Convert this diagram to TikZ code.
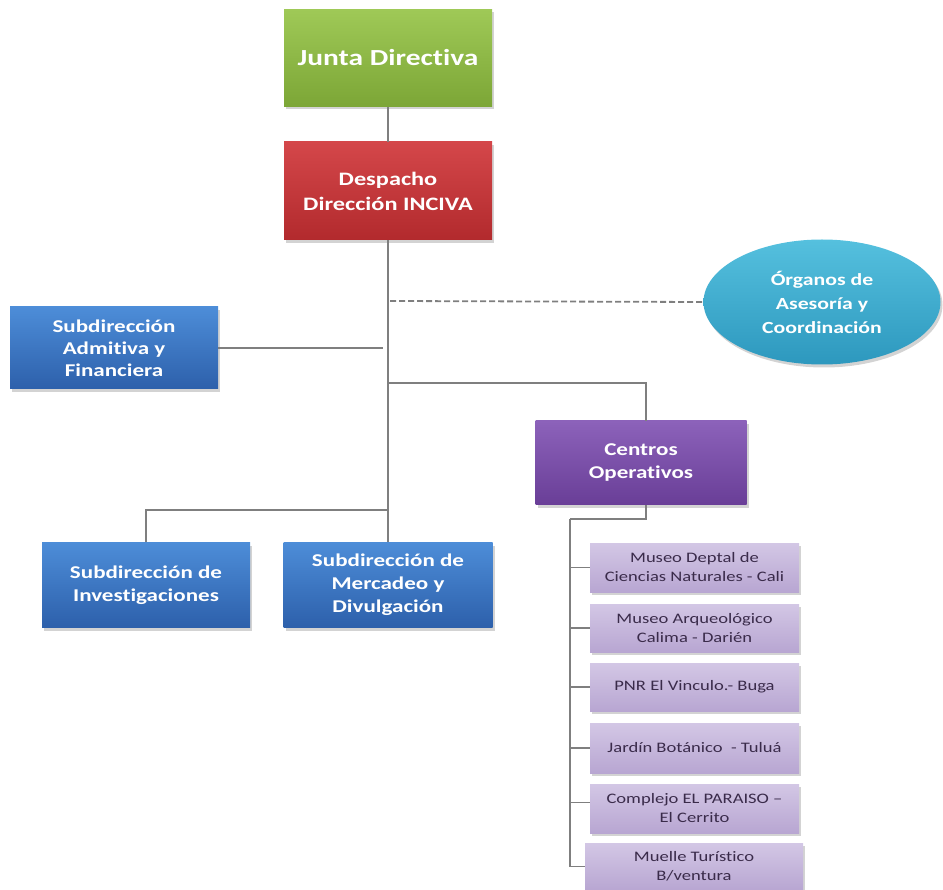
\documentclass[tikz,border=0pt]{standalone}
\usepackage{fontspec}
\setmainfont{Carlito}[FakeStretch=1.28, Ligatures=NoCommon]
\usetikzlibrary{shapes.geometric,shadows}
\definecolor{lineg}{HTML}{7F7F7F}
\definecolor{gtop}{HTML}{9FC957}
\definecolor{gbot}{HTML}{7CA636}
\definecolor{rtop}{HTML}{D4474A}
\definecolor{rbot}{HTML}{B22A2D}
\definecolor{btop}{HTML}{4D8DD8}
\definecolor{bbot}{HTML}{2D60AB}
\definecolor{ptop}{HTML}{8C62BA}
\definecolor{pbot}{HTML}{693E97}
\definecolor{ltop}{HTML}{D3C7E5}
\definecolor{lbot}{HTML}{B8A6D2}
\definecolor{ttop}{HTML}{55C0DE}
\definecolor{tbot}{HTML}{2D98BE}
\definecolor{ltext}{HTML}{3A2B4A}
\begin{document}
\begin{tikzpicture}[x=1pt,y=-1pt,
  boxbase/.style={rectangle, align=center, inner sep=2pt,
    drop shadow={opacity=0.35, shadow xshift=2pt, shadow yshift=-3pt}},
  mainbox/.style={boxbase, text=white, font=\bfseries\fontsize{18}{23}\selectfont},
  greenbox/.style={mainbox, top color=gtop, bottom color=gbot, minimum width=208pt, minimum height=97pt},
  redbox/.style={mainbox, top color=rtop, bottom color=rbot, minimum width=208pt, minimum height=98pt},
  bluebox/.style={mainbox, top color=btop, bottom color=bbot, minimum width=208pt, minimum height=84pt},
  purplebox/.style={mainbox, top color=ptop, bottom color=pbot, minimum width=211pt, minimum height=84pt},
  listbox/.style={boxbase, top color=ltop, bottom color=lbot, text=ltext,
    font=\fontsize{14.5}{19}\selectfont, minimum width=209pt, minimum height=48pt},
  tealell/.style={ellipse, text=white, align=center, top color=ttop, bottom color=tbot,
    drop shadow={opacity=0.35, shadow xshift=2pt, shadow yshift=-3pt},
    font=\bfseries\fontsize{17}{24}\selectfont, minimum width=237pt, minimum height=125pt, inner sep=0pt},
  conn/.style={draw=lineg, line width=1.8pt},
  dashconn/.style={draw=lineg, line width=1.8pt, dashed, dash pattern=on 6pt off 3pt}]
\useasboundingbox (0,0) rectangle (943,890);

% nodes
\node[greenbox, font=\bfseries\fontsize{23}{27}\selectfont] (jd) at (388,58) {Junta Directiva};
\node[redbox, font=\bfseries\fontsize{19}{25}\selectfont] (dd) at (388,191) {Despacho\\Dirección INCIVA};
\node[tealell] (og) at (822,302) {Órganos de\\Asesoría y\\Coordinación};
\node[bluebox, minimum height=82pt, font=\bfseries\fontsize{18}{22}\selectfont] (sa) at (114,348) {Subdirección\\Admitiva y\\Financiera};
\node[purplebox] (co) at (641,463) {Centros\\Operativos};
\node[bluebox, minimum height=85pt] (si) at (146,585) {Subdirección de\\Investigaciones};
\node[bluebox, minimum height=85pt, minimum width=209pt] (sm) at (388,585) {Subdirección de\\Mercadeo y\\Divulgación};

\node[listbox, minimum height=49pt] (l1) at (694.5,567.5) {Museo Deptal de\\Ciencias Naturales - Cali};
\node[listbox] (l2) at (694.5,628) {Museo Arqueológico\\Calima - Darién};
\node[listbox] (l3) at (694.5,687) {PNR El Vinculo.- Buga};
\node[listbox, minimum height=50pt] (l4) at (694.5,748) {Jardín Botánico~ - Tuluá};
\node[listbox, minimum height=49pt] (l5) at (694.5,808.5) {Complejo EL PARAISO –\\El Cerrito};
\node[listbox, minimum width=218pt, minimum height=47pt] (l6) at (694,866.5) {Muelle Turístico\\B/ventura};

% junction coordinates
\coordinate (dj) at (390,301);
\coordinate (sj) at (383,348);
\coordinate (cj) at (388,383);
\coordinate (bj) at (388,510);
\coordinate (lt) at (570,519);

% connectors
\draw[conn] (jd) -- (dd);
\draw[conn] (dd.south) -- (sm.north);
\draw[conn] (si.north) |- (bj);
\draw[conn] (sa.east) -- (sj);
\draw[conn] (cj) -| ([xshift=5pt]co.north);
\draw[dashconn] (dj) -- (og.west);
\draw[conn] ([xshift=5pt]co.south) |- (lt);
\draw[conn] (lt) |- (l6.west);
\draw[conn] (l1.west -| lt) -- (l1.west);
\draw[conn] (l2.west -| lt) -- (l2.west);
\draw[conn] (l3.west -| lt) -- (l3.west);
\draw[conn] (l4.west -| lt) -- (l4.west);
\draw[conn] ([yshift=6pt]l5.west -| lt) -- ([yshift=6pt]l5.west);
\end{tikzpicture}
\end{document}
